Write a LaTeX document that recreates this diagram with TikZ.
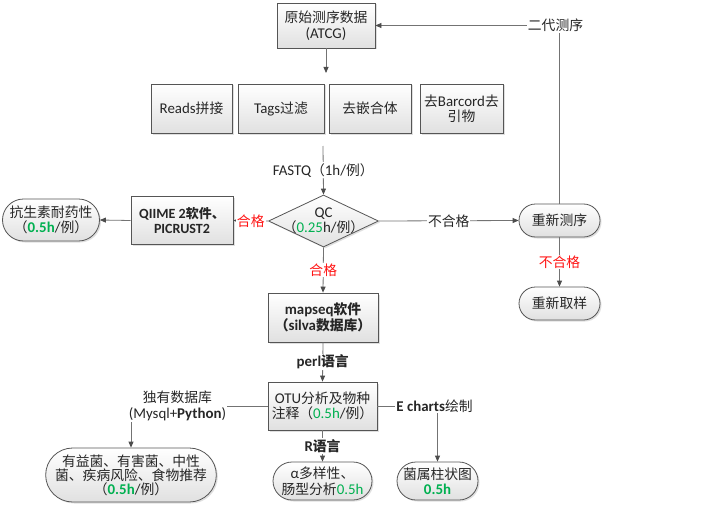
\documentclass[tikz,border=0pt]{standalone}
\usepackage{fontspec}
\setmainfont{Noto Sans CJK SC}
\newfontfamily\latf[Scale=1.08]{Carlito}
\usetikzlibrary{shapes.geometric,shapes.misc,shadows,arrows.meta}
\definecolor{gr}{RGB}{0,176,80}
\definecolor{rd}{RGB}{255,20,20}
\definecolor{bd}{RGB}{85,85,85}
\definecolor{ln}{RGB}{115,115,115}
\newcommand{\la}[1]{{\latf #1}}
\newcommand{\hg}[1]{{\color{gr}\latf #1}}
\begin{document}
\begin{tikzpicture}[x=1pt,y=-1pt,
  every node/.append style={font=\fontsize{13.8}{15.5}\selectfont, text=black!85},
  base/.style={draw=bd, line width=0.8pt, top color=white, bottom color=black!12,
    drop shadow={shadow xshift=1.5pt,shadow yshift=-1.5pt,fill=black!25},
    align=center, inner sep=0pt},
  box/.style={base, rectangle},
  pill/.style={base, rounded rectangle},
  conn/.style={draw=ln, line width=0.8pt},
  arr/.style={conn, -{Triangle[width=5pt,length=6pt,color=black!70,fill=black!70]}},
  lab/.style={fill=white, inner sep=1pt, align=center},
  bold/.style={font=\fontsize{13.8}{15.5}\selectfont\bfseries}]
\useasboundingbox (0,0) rectangle (703,524);

% nodes
\node[box, minimum width=98pt, minimum height=45pt] (raw) at (326,25.5) {原始测序数据\\\la{(ATCG)}};
\node[box, minimum width=81pt, minimum height=49pt] (b1) at (191.5,108.5) {\la{Reads}拼接};
\node[box, minimum width=86pt, minimum height=49pt] (b2) at (281,108.5) {\la{Tags}过滤};
\node[box, minimum width=82pt, minimum height=49pt] (b3) at (370,108.5) {去嵌合体};
\node[box, minimum width=83pt, minimum height=49pt] (b4) at (461.5,108.5) {去\la{Barcord}去\\引物};
\coordinate (grpT) at (326,73);
\coordinate (grpB) at (323,146);

\node[diamond, draw=bd, line width=0.8pt, top color=white, bottom color=black!12,
  drop shadow={shadow xshift=1.5pt,shadow yshift=-1.5pt,fill=black!25},
  minimum width=110pt, minimum height=52pt, inner sep=0pt] (qc) at (323.5,221) {};
\node[align=center, inner sep=0pt] (qct) at (qc) {\la{QC}\\（\hg{0.25}\la{h/}例）};

\node[box, bold, font=\fontsize{13}{15.5}\selectfont\bfseries, minimum width=102pt, minimum height=48pt] (qiime) at (182,220.5) {\la{QIIME 2}软件、\\\la{PICRUST2}};
\node[pill, minimum width=97pt, minimum height=42pt] (abx) at (51,220) {抗生素耐药性\\（\hg{\bfseries 0.5h}\la{/}例）};
\node[pill, minimum width=81pt, minimum height=33pt] (cq) at (559.5,220.5) {重新测序};
\node[pill, minimum width=81pt, minimum height=33pt] (cy) at (559.5,303.5) {重新取样};

\node[box, bold, minimum width=110pt, minimum height=49pt] (map) at (323,317.5) {\la{mapseq}软件\\（\la{silva}数据库）};
\node[box, minimum width=109pt, minimum height=48pt] (otu) at (322.5,406) {\la{OTU}分析及物种\\注释（\hg{0.5h}\la{/}例）};

\node[pill, minimum width=156pt, minimum height=54pt, font=\fontsize{13.8}{14}\selectfont] (yy) at (131,475) {有益菌、有害菌、中性\\菌、疾病风险、食物推荐\\（\hg{\bfseries 0.5h}\la{/}例）};
\node[pill, minimum width=99pt, minimum height=38pt] (alpha) at (322.5,481) {\la{α}多样性、\\肠型分析\hg{0.5h}};
\node[pill, minimum width=81pt, minimum height=38pt] (bar) at (437.5,481) {菌属柱状图\\\hg{\bfseries 0.5h}};

% connectors
\draw[arr] (raw.south) -- (grpT);
\draw[arr] (grpB) -- node[lab]{\la{FASTQ}（\la{1h/}例）} (qc.north);
\draw[arr] (qc.west) -- node[lab,text=rd]{合格} (qiime.east);
\draw[arr] (qiime.west) -- (abx.east);
\draw[arr] (qc.east) -- node[lab]{不合格} (cq.west);
\draw[arr] (cq.south) -- node[lab,text=rd]{不合格} (cy.north);
\draw[arr] (cq.north) |- node[lab,pos=0.5,xshift=-4pt]{二代测序} (raw.east);
\draw[arr] (qc.south) -- node[lab,text=rd]{合格} (map.north);
\draw[arr] (map.south) -- node[lab,bold]{\la{perl}语言} (otu.north);
\draw[arr] (otu.south) -- node[lab,bold]{\la{R}语言} (alpha.north);
\draw[arr] (otu.west) -| node[lab,pos=0.33]{独有数据库\\\la{(Mysql+\textbf{Python})}} (yy.north);
\draw[arr] (otu.east) -| node[lab,pos=0.5,xshift=-3pt]{\la{\textbf{E charts}}绘制} (bar.north);
\end{tikzpicture}
\end{document}
